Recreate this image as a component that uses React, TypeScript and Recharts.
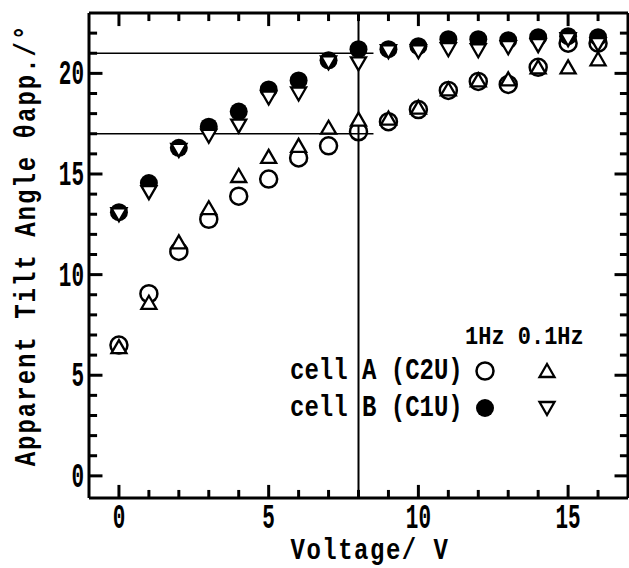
import React from 'react';
import { ScatterChart, Scatter, XAxis, YAxis, ReferenceLine } from 'recharts';

const voltages = [0, 1, 2, 3, 4, 5, 6, 7, 8, 9, 10, 11, 12, 13, 14, 15, 16];
// cell A (C2U)
const cellA1Hz = [6.5, 9.05, 11.15, 12.75, 13.9, 14.75, 15.8, 16.4, 17.1, 17.6, 18.2, 19.15, 19.6, 19.45, 20.3, 21.5, 21.5];
const cellA01Hz = [6.4, 8.6, 11.6, 13.3, 14.9, 15.85, 16.4, 17.3, 17.7, 17.75, 18.3, 19.2, 19.65, 19.7, 20.3, 20.3, 20.7];
// cell B (C1U)
const cellB1Hz = [13.1, 14.55, 16.3, 17.35, 18.1, 19.2, 19.65, 20.65, 21.2, 21.2, 21.35, 21.7, 21.7, 21.65, 21.8, 21.85, 21.8];
const cellB01Hz = [13.0, 14.1, 16.2, 16.9, 17.4, 18.8, 19.0, 20.55, 20.5, 21.1, 21.1, 21.2, 21.15, 21.3, 21.4, 21.7, 21.45];

const xTicks = [0, 1, 2, 3, 4, 5, 6, 7, 8, 9, 10, 11, 12, 13, 14, 15, 16];
const xMajor = [0, 5, 10, 15];
const yTicks = [0, 1, 2, 3, 4, 5, 6, 7, 8, 9, 10, 11, 12, 13, 14, 15, 16, 17, 18, 19, 20, 21, 22];
const yMajor = [0, 5, 10, 15, 20];

const xDomain = [-1, 17];
const yDomain = [-1.1, 23];

const toPoints = (ys: number[]) => voltages.map((v, i) => ({ x: v, y: ys[i] }));

const FONT = '"Liberation Mono", monospace';
const INK = '#000';

const OpenCircle = (p: any) => <circle cx={p.cx} cy={p.cy} r={8.5} fill="none" stroke={INK} strokeWidth={2.5} />;
const FilledCircle = (p: any) => <circle cx={p.cx} cy={p.cy} r={9} fill={INK} />;
const TriUp = (p: any) => (
  <polygon
    points={`${p.cx},${p.cy - 7} ${p.cx - 7.5},${p.cy + 6} ${p.cx + 7.5},${p.cy + 6}`}
    fill="#fff" stroke={INK} strokeWidth={2.3}
  />
);
const TriDown = (p: any) => (
  <polygon
    points={`${p.cx},${p.cy + 7} ${p.cx - 7.5},${p.cy - 6} ${p.cx + 7.5},${p.cy - 6}`}
    fill="#fff" stroke={INK} strokeWidth={2.3}
  />
);
const Nothing = () => <g />;

const BottomLabel = (p: any) => (
  <text transform={`translate(${p.x} ${p.y + 30}) scale(0.75 1.25)`} textAnchor="middle"
    fontFamily={FONT} fontWeight="bold" fontSize={28} fill={INK}>{p.payload.value}</text>
);

const LeftLabel = (p: any) => (
  <text transform={`translate(${p.x - 5} ${p.y + 11}) scale(0.75 1.25)`} textAnchor="end"
    fontFamily={FONT} fontWeight="bold" fontSize={28} fill={INK}>{p.payload.value}</text>
);

const frameLine = { stroke: INK, strokeWidth: 3 };

// inward tick marks, lengths in data units (about 13px major, 8px minor)
const yLen = (v: number) => (xMajor.includes(v) ? 0.65 : 0.4);
const xLen = (v: number) => (yMajor.includes(v) ? 0.45 : 0.27);

export default function App() {
  return (
    <div style={{ position: 'absolute', left: 0, top: 0, width: 629, height: 568, background: '#fff' }}>
      <ScatterChart width={629} height={568} margin={{ top: 13, right: 1, bottom: 10, left: 39 }}>
        <XAxis type="number" dataKey="x" domain={xDomain} ticks={xMajor} allowDataOverflow
          height={60} tickSize={0} tickMargin={0} tickLine={false} tick={<BottomLabel />}
          axisLine={frameLine} interval={0} />
        <YAxis type="number" dataKey="y" domain={yDomain} ticks={yMajor} allowDataOverflow
          width={50} tickSize={0} tickMargin={0} tickLine={false} tick={<LeftLabel />}
          axisLine={frameLine} interval={0} />
        <XAxis xAxisId="top" orientation="top" type="number" dataKey="x" domain={xDomain} allowDataOverflow
          mirror height={1} tick={false} tickLine={false} axisLine={frameLine} />
        <YAxis yAxisId="right" orientation="right" type="number" dataKey="y" domain={yDomain} allowDataOverflow
          mirror width={1} tick={false} tickLine={false} axisLine={frameLine} />
        <Scatter xAxisId="top" yAxisId="right" data={toPoints(cellA1Hz)} shape={Nothing} isAnimationActive={false} />
        <Scatter data={toPoints(cellA1Hz)} shape={OpenCircle} isAnimationActive={false} />
        <Scatter data={toPoints(cellB1Hz)} shape={FilledCircle} isAnimationActive={false} />
        <Scatter data={toPoints(cellA01Hz)} shape={TriUp} isAnimationActive={false} />
        <Scatter data={toPoints(cellB01Hz)} shape={TriDown} isAnimationActive={false} />
        <ReferenceLine x={8} stroke={INK} strokeWidth={2} />
        <ReferenceLine segment={[{ x: -1, y: 21 }, { x: 8.5, y: 21 }]} stroke={INK} strokeWidth={1.5} />
        <ReferenceLine segment={[{ x: -1, y: 17 }, { x: 8.5, y: 17 }]} stroke={INK} strokeWidth={1.5} />
        {xTicks.map((v) => (
          <ReferenceLine key={`b${v}`} ifOverflow="visible"
            segment={[{ x: v, y: yDomain[0] }, { x: v, y: yDomain[0] + yLen(v) }]}
            stroke={INK} strokeWidth={3} />
        ))}
        {xTicks.map((v) => (
          <ReferenceLine key={`t${v}`} ifOverflow="visible"
            segment={[{ x: v, y: yDomain[1] }, { x: v, y: yDomain[1] - yLen(v) }]}
            stroke={INK} strokeWidth={3} />
        ))}
        {yTicks.map((v) => (
          <ReferenceLine key={`l${v}`} ifOverflow="visible"
            segment={[{ x: xDomain[0], y: v }, { x: xDomain[0] + xLen(v), y: v }]}
            stroke={INK} strokeWidth={3} />
        ))}
        {yTicks.map((v) => (
          <ReferenceLine key={`r${v}`} ifOverflow="visible"
            segment={[{ x: xDomain[1], y: v }, { x: xDomain[1] - xLen(v), y: v }]}
            stroke={INK} strokeWidth={3} />
        ))}
      </ScatterChart>
      <svg width={629} height={568} style={{ position: 'absolute', left: 0, top: 0, pointerEvents: 'none' }}>
        <text transform="translate(370 559) scale(1 1.2)" textAnchor="middle" fontFamily={FONT} fontWeight="bold"
          fontSize={24} letterSpacing={1.5} fill={INK}>
          Voltage/ V
        </text>
        <text transform="translate(35 245) rotate(-90) scale(1 1.2)" textAnchor="middle" fontFamily={FONT} fontWeight="bold"
          fontSize={24} letterSpacing={2} fill={INK}>
          Apparent Tilt Angle θapp./°
        </text>
        <text transform="translate(465 344) scale(1 1.2)" fontFamily={FONT} fontWeight="bold" fontSize={22} fill={INK}>1Hz 0.1Hz</text>
        <text transform="translate(290 379) scale(1 1.25)" fontFamily={FONT} fontWeight="bold" fontSize={24} fill={INK}>cell A (C2U)</text>
        <text transform="translate(290 416) scale(1 1.25)" fontFamily={FONT} fontWeight="bold" fontSize={24} fill={INK}>cell B (C1U)</text>
        <OpenCircle cx={485} cy={371} />
        <TriUp cx={547} cy={371} />
        <FilledCircle cx={485} cy={408} />
        <TriDown cx={547} cy={408} />
      </svg>
    </div>
  );
}
